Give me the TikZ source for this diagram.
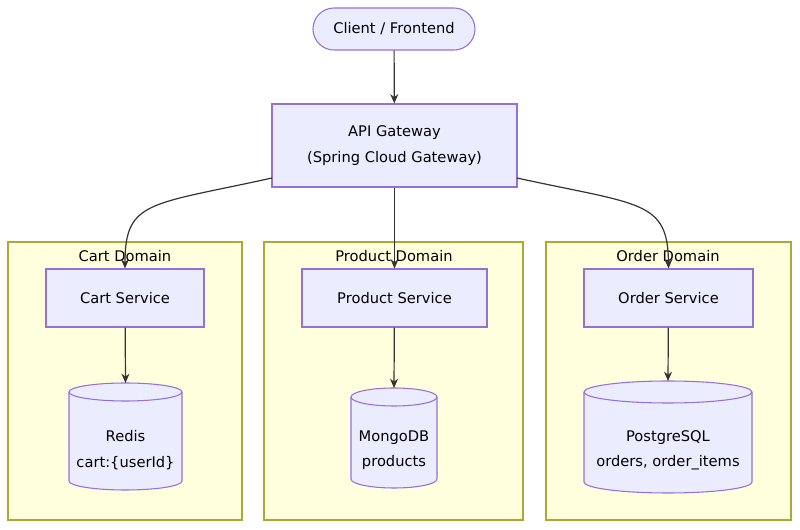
\documentclass[tikz,border=0pt]{standalone}
\usepackage{fontspec}
\setmainfont{DejaVu Sans}
\usetikzlibrary{arrows.meta}
\definecolor{nf}{HTML}{ECECFF}\definecolor{ns}{HTML}{9370DB}
\definecolor{cf}{HTML}{FFFFDE}\definecolor{cs}{HTML}{AAAA33}
\definecolor{ln}{HTML}{333333}
\begin{document}
\begin{tikzpicture}[x=0.75pt,y=-0.75pt,font=\fontsize{11}{19}\selectfont,
 box/.style={draw=ns,fill=nf,line width=0.8pt,align=center,inner sep=0},
 clus/.style={draw=cs,fill=cf,line width=0.8pt},
 arr/.style={draw=ln,line width=0.9pt,-{Stealth[length=7pt,width=6pt]}}]
\useasboundingbox (0,0) rectangle (800,530);
\newcommand{\cyl}[6]{% x1,x2,ytop,ybot,ry,name
 \fill[nf] (#1,#3) -- (#1,#4) arc[start angle=180,end angle=0,x radius={(#2-#1)/2},y radius=#5] -- (#2,#3) -- cycle;
 \fill[nf] ({(#1+#2)/2},#3) ellipse[x radius={(#2-#1)/2},y radius=#5];
 \draw[ns,line width=0.8pt] ({(#1+#2)/2},#3) ellipse[x radius={(#2-#1)/2},y radius=#5];
 \draw[ns,line width=0.8pt] (#1,#3) -- (#1,#4) arc[start angle=180,end angle=0,x radius={(#2-#1)/2},y radius=#5] -- (#2,#3);
 \coordinate (#6) at ({(#1+#2)/2},{#3-#5});
}
\draw[clus] (8,242) rectangle (242,520);
\draw[clus] (264,242) rectangle (523,520);
\draw[clus] (546,242) rectangle (791,520);
\node at (125,256) {Cart Domain};
\node at (394,256) {Product Domain};
\node at (668,256) {Order Domain};
\node[box,rounded corners=21*0.75pt,minimum width=162*0.75pt,minimum height=42*0.75pt] (client) at (394,29) {Client / Frontend};
\node[box,minimum width=245*0.75pt,minimum height=83*0.75pt] (gw) at (394.5,145.5) {API Gateway\\(Spring Cloud Gateway)};
\node[box,minimum width=158*0.75pt,minimum height=58*0.75pt] (cart) at (125,298) {Cart Service};
\node[box,minimum width=185*0.75pt,minimum height=58*0.75pt] (prod) at (394.5,298) {Product Service};
\node[box,minimum width=169*0.75pt,minimum height=58*0.75pt] (ord) at (668.5,298) {Order Service};
\cyl{69}{182}{392}{481}{9}{redis}
\cyl{351}{437}{397}{479}{9}{mongo}
\cyl{584}{752}{392}{482}{11}{pg}
\node[align=center] (redist) at (125.5,450) {Redis\\cart:\{userId\}};
\node[align=center] (mongot) at (394,450) {MongoDB\\products};
\node[align=center] (pgt) at (668,450) {PostgreSQL\\orders, order\_items};
\draw[arr] (client) -- (gw);
\coordinate (g1) at (272,178); \coordinate (g2) at (517,178);
\draw[arr] (g1) .. controls (150,205) and (125,200) .. (cart.north);
\draw[arr] (gw) -- (prod);
\draw[arr] (g2) .. controls (640,205) and (668,200) .. (ord.north);
\draw[arr] (cart) -- (redis);
\draw[arr] (prod) -- (mongo);
\draw[arr] (ord) -- (pg);
\end{tikzpicture}
\end{document}
